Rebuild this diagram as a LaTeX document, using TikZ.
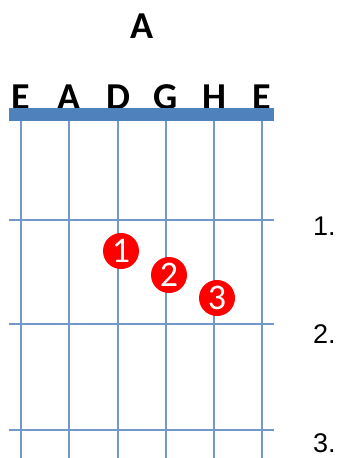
\documentclass[tikz,border=0pt]{standalone}
\usepackage{fontspec}
\setmainfont{Carlito}
\newfontfamily\numfont{Liberation Sans}
\usepackage{xcolor}
\usetikzlibrary{positioning}
\definecolor{nutblue}{HTML}{4F81BD}
\definecolor{lineblue}{HTML}{7397C9}
\definecolor{dotred}{HTML}{FF0000}

\begin{document}
\begin{tikzpicture}[
    x=1pt, y=-1pt,
    nut/.style={fill=nutblue},
    strng/.style={draw=lineblue, line width=1.7pt},
    fret/.style={draw=lineblue, line width=1.7pt},
    title/.style={font=\fontsize{38}{38}\selectfont\bfseries, anchor=base, inner sep=0pt},
    tuning/.style={font=\fontsize{38}{38}\selectfont\bfseries, anchor=base, inner sep=0pt},
    finger/.style={circle, fill=dotred, text=white, minimum size=36pt, inner sep=0pt,
                   font=\fontsize{36}{36}\selectfont},
    fretnum/.style={font=\numfont\fontsize{27}{27}\selectfont, anchor=base west, inner sep=0pt}
  ]
  \useasboundingbox (0,0) rectangle (341,458);

  % Chord name
  \node[title] (chord) at (142,38) {A};

  % Tuning
  \node[tuning] (s1) at (21,109) {E};
  \node[tuning] (s2) at (69,109) {A};
  \node[tuning] (s3) at (118,109) {D};
  \node[tuning] (s4) at (166,109) {G};
  \node[tuning] (s5) at (214,109) {H};
  \node[tuning] (s6) at (262,109) {E};

  % Nut
  \fill[nut] (9,108) rectangle (274,121);

  % Strings
  \draw[strng] (21,121) -- (21,458);
  \draw[strng] (69,121) -- (69,458);
  \draw[strng] (118,121) -- (118,458);
  \draw[strng] (166,121) -- (166,458);
  \draw[strng] (214,121) -- (214,458);
  \draw[strng] (262,121) -- (262,458);

  % Frets
  \draw[fret] (9,220) -- (274,220);
  \draw[fret] (9,324) -- (274,324);
  \draw[fret] (9,430) -- (274,430);

  % Fret numbers
  \node[fretnum] (f1) at (313,235) {1.};
  \node[fretnum] (f2) at (313,343) {2.};
  \node[fretnum] (f3) at (313,452) {3.};

  % Fingers
  \node[finger] (d1) at (121,251) {1};
  \node[finger] (d2) at (169,275) {2};
  \node[finger] (d3) at (217,298) {3};
\end{tikzpicture}
\end{document}
